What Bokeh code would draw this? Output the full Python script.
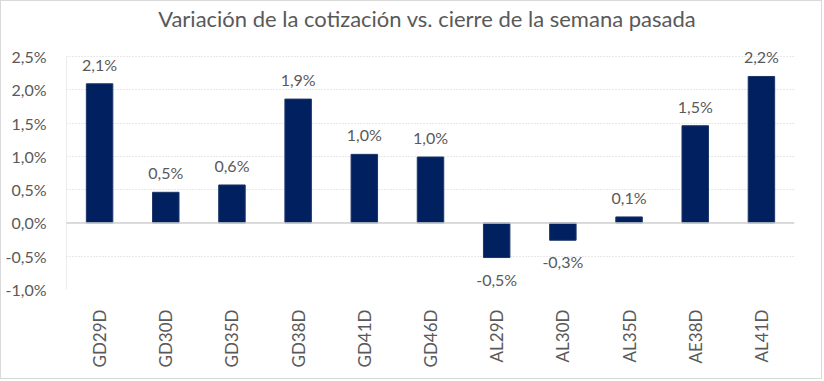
import math
from bokeh.plotting import figure
from bokeh.models import ColumnDataSource, Range1d, FixedTicker, CustomJSTickFormatter, LabelSet, Span, Label
from bokeh.core.properties import value
from bokeh.embed import file_html
from bokeh.resources import INLINE

categories = ["GD29D", "GD30D", "GD35D", "GD38D", "GD41D", "GD46D",
              "AL29D", "AL30D", "AL35D", "AE38D", "AL41D"]
values = [2.09, 0.46, 0.57, 1.86, 1.03, 0.99, -0.52, -0.26, 0.09, 1.46, 2.20]
y_ticks = [-1.0, -0.5, 0.0, 0.5, 1.0, 1.5, 2.0, 2.5]
title_text = "Variación de la cotización vs. cierre de la semana pasada"

FONT = "Lato"
TXT = "#595959"

# layout (pixels)
H, W = 379, 822
BOTTOM, LEFT, RIGHT = 91, 65, 29
PX_PER_UNIT = 233 / (y_ticks[-1] - y_ticks[0])
frame_h = H - BOTTOM
y_top = y_ticks[0] + frame_h / PX_PER_UNIT

labels = [("%.1f" % v).replace(".", ",") + "%" for v in values]
src = ColumnDataSource(dict(cat=categories, val=values, lab=labels))
src_pos = ColumnDataSource(dict(cat=[c for c, v in zip(categories, values) if v >= 0],
                                val=[v for v in values if v >= 0],
                                lab=[l for l, v in zip(labels, values) if v >= 0]))
src_neg = ColumnDataSource(dict(cat=[c for c, v in zip(categories, values) if v < 0],
                                val=[v for v in values if v < 0],
                                lab=[l for l, v in zip(labels, values) if v < 0]))

p = figure(x_range=categories, y_range=Range1d(y_ticks[0], y_top),
           width=W, height=H, output_backend="svg", toolbar_location=None,
           min_border_left=LEFT, min_border_right=RIGHT, min_border_top=0, min_border_bottom=BOTTOM,
           styles={"border": "1px solid #d9d9d9"})

p.add_layout(Label(x=len(categories) / 2 - 0.05, y=y_ticks[-1], y_offset=38, text=title_text,
                   text_align="center", text_baseline="middle", text_font=FONT,
                   text_font_size="22px", text_color=TXT))

# left axis line spanning only the tick range
p.segment(x0=[0], y0=[y_ticks[0]], x1=[0], y1=[y_ticks[-1]], line_color="#d9d9d9", line_width=1)

p.vbar(x="cat", top="val", bottom=0, width=0.4, source=src,
       fill_color="#002060", line_color="#1c3668", line_width=1)

p.add_layout(Span(location=0, dimension="width", line_color="#d0d0d0", line_width=1.5))

p.add_layout(LabelSet(x="cat", y="val", text="lab", source=src_pos, text_align="center",
                      text_baseline="bottom", y_offset=10, text_font=value(FONT),
                      text_font_size=value("16px"), text_color=TXT))
p.add_layout(LabelSet(x="cat", y="val", text="lab", source=src_neg, text_align="center",
                      text_baseline="top", y_offset=-12, text_font=value(FONT),
                      text_font_size=value("16px"), text_color=TXT))

p.yaxis.ticker = FixedTicker(ticks=y_ticks)
p.yaxis.formatter = CustomJSTickFormatter(code="return tick.toFixed(1).replace('.', ',') + '%';")
p.yaxis.major_tick_line_color = None
p.yaxis.minor_tick_line_color = None
p.yaxis.axis_line_color = None
p.yaxis.major_label_text_font = FONT
p.yaxis.major_label_text_font_size = "16px"
p.yaxis.major_label_text_color = TXT
p.yaxis.major_label_standoff = 14

p.xaxis.axis_line_color = None
p.xaxis.major_tick_line_color = None
p.xaxis.minor_tick_line_color = None
p.xaxis.major_label_orientation = math.pi / 2
p.xaxis.major_label_text_font = FONT
p.xaxis.major_label_text_font_size = "17px"
p.xaxis.major_label_text_color = TXT
p.xaxis.major_label_standoff = 14

p.xgrid.grid_line_color = None
p.ygrid.grid_line_color = "#d0d0d0"
p.ygrid.grid_line_dash = "1 2"
p.ygrid.grid_line_width = 1

p.outline_line_color = None
p.background_fill_color = "white"
p.border_fill_color = "white"

open("out.html", "w").write(file_html(p, INLINE))
